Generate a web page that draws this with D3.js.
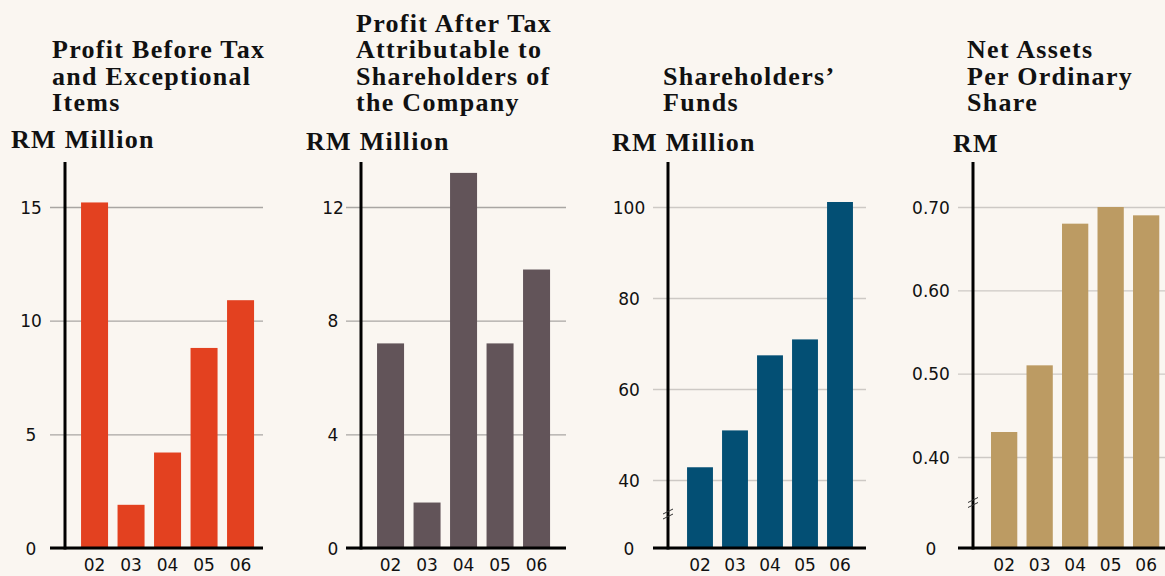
<!DOCTYPE html>
<html>
<head>
<meta charset="utf-8">
<script src="https://cdn.jsdelivr.net/npm/d3@7"></script>
<style>
  html, body { margin: 0; padding: 0; background: #faf6f1; }
  #chart { width: 1165px; height: 576px; overflow: hidden; }
  .title, .unit { font-family: "Liberation Serif", "Times New Roman", serif; font-weight: bold; font-size: 26px; letter-spacing: 1.3px; fill: #111; }
  .tick text { font-family: "DejaVu Sans", sans-serif; font-size: 17px; fill: #111; }
</style>
</head>
<body>
<div id="chart"></div>
<script>
// years on the x axis
const years = ["02", "03", "04", "05", "06"];

// series values
const profitBeforeTax = [15.2, 1.9, 4.2, 8.8, 10.9];
const profitAfterTax = [7.2, 1.6, 13.2, 7.2, 9.8];
const shareholdersFunds = [42.8, 50.9, 67.4, 70.9, 101.1];
const netAssetsPerShare = [0.43, 0.51, 0.68, 0.70, 0.69];

// y tick labels
const ticksPBT = [0, 5, 10, 15];
const ticksPAT = [0, 4, 8, 12];
const ticksSF = [0, 40, 60, 80, 100];
const ticksNA = [0, 0.4, 0.5, 0.6, 0.7];

// titles
const titlePBT = ["Profit Before Tax", "and Exceptional", "Items"];
const titlePAT = ["Profit After Tax", "Attributable to", "Shareholders of", "the Company"];
const titleSF = ["Shareholders\u2019", "Funds"];
const titleNA = ["Net Assets", "Per Ordinary", "Share"];

const width = 1165;
const height = 576;
const baseY = 548;
const topY = 207;
const axisTop = 162;
const titleBottom = 111;
const lineH = 26.3;

// layout for each panel
const panels = [
  {values: profitBeforeTax, ticks: ticksPBT, title: titlePBT, unit: "RM Million",
   domain: [0, 15], range: [baseY, topY], color: "#e34120", grid: "#a9a6a3",
   axisX: 65, titleX: 52, unitX: 11, unitY: 148, labelOff: 34, gridEnd: 263,
   barOff: 11.3, step: 36.5, fmt: d => d},
  {values: profitAfterTax, ticks: ticksPAT, title: titlePAT, unit: "RM Million",
   domain: [0, 12], range: [baseY, topY], color: "#625459", grid: "#a9a6a3",
   axisX: 361, titleX: 356, unitX: 306, unitY: 150, labelOff: 28, gridEnd: 566,
   barOff: 11.3, step: 36.5, fmt: d => d},
  {values: shareholdersFunds, ticks: ticksSF, title: titleSF, unit: "RM Million",
   domain: [0, 40, 100], range: [baseY, 480, topY], color: "#034f74", grid: "#cdc9c5",
   axisX: 668, titleX: 663, unitX: 612, unitY: 151, labelOff: 39, gridEnd: 866,
   barOff: 14.5, step: 35, fmt: d => d, breakAt: 20},
  {values: netAssetsPerShare, ticks: ticksNA, title: titleNA, unit: "RM",
   domain: [0, 0.4, 0.7], range: [baseY, 457, topY], color: "#bc9b63", grid: "#cdc9c5",
   axisX: 973, titleX: 967, unitX: 953, unitY: 152, labelOff: 42, gridEnd: 1170,
   barOff: 13.4, step: 35.5, fmt: d => d === 0 ? "0" : d3.format(".2f")(d), breakAt: 0.2}
];

const svg = d3.select("#chart")
  .append("svg")
  .attr("width", width)
  .attr("height", height);

svg.append("rect")
  .attr("width", width)
  .attr("height", height)
  .attr("fill", "#faf6f1");

panels.forEach(p => {
  const g = svg.append("g");

  const y = d3.scaleLinear()
    .domain(p.domain)
    .range(p.range);

  const x0 = p.axisX + p.barOff;
  const x = d3.scaleBand()
    .domain(years)
    .range([x0, x0 + p.step * years.length])
    .paddingInner(0.26)
    .paddingOuter(0.13);

  // title, bottom aligned
  const n = p.title.length;
  g.append("g")
    .selectAll("text")
    .data(p.title)
    .join("text")
      .attr("class", "title")
      .attr("x", p.titleX)
      .attr("y", (d, i) => titleBottom - (n - 1 - i) * lineH)
      .text(d => d);

  g.append("text")
    .attr("class", "unit")
    .attr("x", p.unitX)
    .attr("y", p.unitY)
    .text(p.unit);

  // gridlines + y tick labels
  const yAxis = g.append("g")
    .attr("transform", `translate(${p.axisX - 15},0)`)
    .call(d3.axisRight(y)
      .tickValues(p.ticks)
      .tickSize(p.gridEnd - p.axisX + 15)
      .tickFormat(p.fmt));
  yAxis.select(".domain").remove();
  yAxis.selectAll(".tick line")
    .attr("stroke", p.grid)
    .attr("stroke-width", 1.3);
  yAxis.selectAll(".tick text")
    .attr("x", -(p.labelOff - 15))
    .attr("dy", "0.36em")
    .attr("text-anchor", "middle");

  // bars
  g.append("g")
    .selectAll("rect")
    .data(p.values)
    .join("rect")
      .attr("x", (d, i) => x(years[i]))
      .attr("y", d => y(d))
      .attr("width", x.bandwidth())
      .attr("height", d => y(0) - y(d))
      .attr("fill", p.color);

  // baseline
  g.append("line")
    .attr("x1", p.axisX - 15)
    .attr("x2", p.gridEnd)
    .attr("y1", y(0))
    .attr("y2", y(0))
    .attr("stroke", "#000")
    .attr("stroke-width", 3);

  // vertical axis
  g.append("line")
    .attr("x1", p.axisX)
    .attr("x2", p.axisX)
    .attr("y1", axisTop)
    .attr("y2", y(0) + 1.5)
    .attr("stroke", "#000")
    .attr("stroke-width", 3);

  // broken axis mark
  if (p.breakAt !== undefined) {
    const yb = y(p.breakAt);
    g.selectAll(".brk")
      .data([-2.5, 2.5])
      .join("line")
        .attr("x1", p.axisX - 5)
        .attr("x2", p.axisX + 5)
        .attr("y1", d => yb + d + 2.5)
        .attr("y2", d => yb + d - 2.5)
        .attr("stroke", "#333")
        .attr("stroke-width", 1);
  }

  // year labels
  const xAxis = g.append("g")
    .attr("transform", `translate(0,${y(0)})`)
    .call(d3.axisBottom(x).tickSize(0).tickPadding(11));
  xAxis.select(".domain").remove();
});
</script>
</body>
</html>
